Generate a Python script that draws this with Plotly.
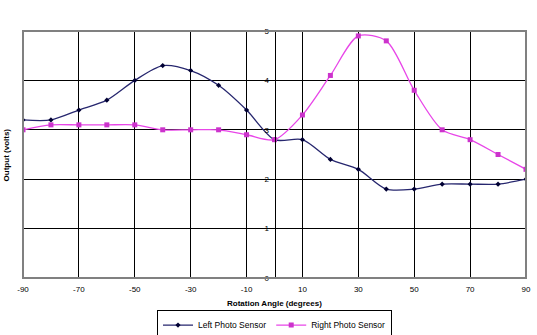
import plotly.graph_objects as go

# Rotation angle (degrees) and sensor output (volts)
angles = [-90, -80, -70, -60, -50, -40, -30, -20, -10, 0,
          10, 20, 30, 40, 50, 60, 70, 80, 90]
left_sensor = [3.2, 3.2, 3.4, 3.6, 4.0, 4.3, 4.2, 3.9, 3.4, 2.8,
               2.8, 2.4, 2.2, 1.8, 1.8, 1.9, 1.9, 1.9, 2.0]
right_sensor = [3.0, 3.1, 3.1, 3.1, 3.1, 3.0, 3.0, 3.0, 2.9, 2.8,
                3.3, 4.1, 4.9, 4.8, 3.8, 3.0, 2.8, 2.5, 2.2]

x_ticks = list(range(-90, 91, 20))
y_ticks = [0, 1, 2, 3, 4, 5]

FONT = "Liberation Sans, Arial, sans-serif"

fig = go.Figure()
fig.add_trace(go.Scatter(
    x=angles, y=left_sensor, name="Left Photo Sensor",
    mode="lines+markers",
    line=dict(color="#26266e", width=1.3, shape="spline", smoothing=0.8),
    marker=dict(symbol="diamond", size=4, color="#000033"),
))
fig.add_trace(go.Scatter(
    x=angles, y=right_sensor, name="Right Photo Sensor",
    mode="lines+markers",
    line=dict(color="#e846e8", width=1.3, shape="spline", smoothing=0.8),
    marker=dict(symbol="square", size=5, color="#cc33cc"),
))

fig.update_layout(
    width=537, height=335,
    margin=dict(l=23, r=11, t=31, b=57, autoexpand=False),
    paper_bgcolor="white", plot_bgcolor="white",
    font=dict(family=FONT, size=8, color="black"),
    showlegend=True,
    legend=dict(
        orientation="h", x=0.5, xanchor="center", y=-0.128, yanchor="top",
        bordercolor="black", borderwidth=1, bgcolor="white",
        font=dict(family=FONT, size=8.5), itemwidth=30,
        tracegroupgap=0,
    ),
    xaxis=dict(
        range=[-90, 90], tickmode="array", tickvals=x_ticks,
        ticktext=[str(v) for v in x_ticks],
        showgrid=True, gridcolor="black", gridwidth=1,
        zeroline=False, showline=False, ticks="",
        ticklabelstandoff=5,
        tickfont=dict(family=FONT, size=8),
    ),
    yaxis=dict(
        range=[0, 5], tickmode="array", tickvals=y_ticks,
        anchor="free", position=0.5,
        showgrid=True, gridcolor="black", gridwidth=1,
        zeroline=False, showline=True, linecolor="black", linewidth=1,
        ticks="outside", ticklen=4, tickcolor="black",
        tickfont=dict(family=FONT, size=8),
    ),
    shapes=[dict(
        type="rect", xref="x domain", yref="y domain",
        x0=0, x1=1, y0=0, y1=1,
        line=dict(color="#808080", width=2),
    )],
    annotations=[
        dict(text="<b>Rotation Angle (degrees)</b>", xref="paper", yref="paper",
             x=0.5, y=-0.077, xanchor="center", yanchor="top",
             showarrow=False, font=dict(family=FONT, size=8)),
        dict(text="<b>Output (volts)</b>", xref="paper", yref="paper",
             x=-0.032, y=0.5, xanchor="center", yanchor="middle",
             textangle=-90, showarrow=False, font=dict(family=FONT, size=8)),
    ],
)

fig.write_html("out.html")
